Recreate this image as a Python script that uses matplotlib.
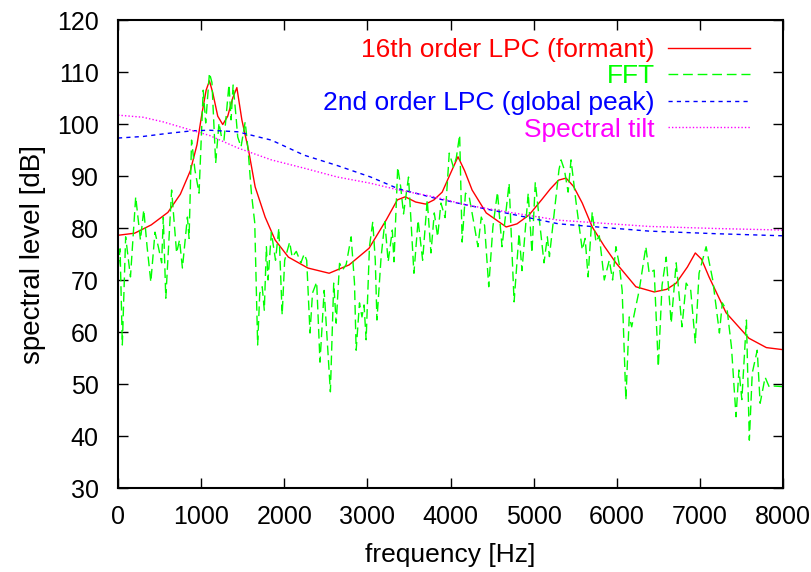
import matplotlib
matplotlib.use('Agg')
import matplotlib.pyplot as plt

plt.rcParams['font.family'] = ['Liberation Sans', 'DejaVu Sans']

# 16th order LPC envelope (formant)
lpc16_f = [0, 200, 400, 600, 750, 870, 950, 1010, 1060, 1100, 1140, 1200, 1260,
           1320, 1380, 1430, 1490, 1570, 1650, 1770, 1890, 2050, 2285, 2540,
           2780, 3020, 3225, 3360, 3455, 3580, 3700, 3800, 3900, 4000, 4090,
           4170, 4260, 4430, 4670, 4800, 4945, 5100, 5200, 5300, 5390, 5480,
           5585, 5705, 5850, 5990, 6230, 6450, 6600, 6715, 6850, 6945, 7020,
           7110, 7315, 7590, 7800, 8000]
lpc16_db = [78.6, 79.0, 80.6, 83.0, 86.5, 91.0, 96.0, 102.0, 106.5, 108.3, 106.0,
            101.5, 99.9, 101.5, 105.0, 107.0, 100.8, 95.0, 87.9, 82.1, 77.7,
            74.4, 72.3, 71.3, 72.9, 76.1, 81.5, 85.4, 86.0, 85.0, 84.6, 85.4,
            86.9, 90.5, 93.7, 91.0, 87.3, 82.9, 80.2, 80.8, 82.5, 85.5, 87.5,
            89.2, 89.6, 88.0, 84.8, 80.2, 76.5, 73.3, 68.7, 67.7, 68.2, 69.4,
            72.5, 75.2, 74.0, 70.6, 63.7, 58.8, 57.0, 56.6]

# FFT spectrum
fft_f = [0, 25, 52, 92, 150, 213, 270, 310, 350, 395, 445, 485, 525, 545, 575,
         645, 705, 740, 775, 835, 855, 885, 925, 975, 1025, 1055, 1100, 1130,
         1175, 1215, 1245, 1275, 1335, 1360, 1385, 1420, 1440, 1480, 1530,
         1565, 1605, 1645, 1680, 1705, 1735, 1760, 1785, 1805, 1845, 1895,
         1935, 1975, 2005, 2065, 2095, 2145, 2200, 2240, 2270, 2310, 2340,
         2390, 2430, 2480, 2555, 2595, 2625, 2665, 2705, 2745, 2805, 2845,
         2865, 2905, 2935, 2960, 2985, 3025, 3065, 3095, 3115, 3165, 3210,
         3250, 3300, 3320, 3365, 3400, 3435, 3495, 3560, 3610, 3665, 3720,
         3765, 3805, 3845, 3885, 3935, 3985, 4035, 4070, 4110, 4140, 4180,
         4225, 4275, 4330, 4370, 4410, 4460, 4510, 4565, 4620, 4705, 4765,
         4825, 4860, 4935, 4980, 5020, 5125, 5165, 5190, 5305, 5330, 5370,
         5415, 5450, 5510, 5585, 5620, 5655, 5705, 5750, 5790, 5850, 5910,
         5950, 5990, 6030, 6065, 6110, 6150, 6180, 6220, 6270, 6350, 6390,
         6450, 6500, 6545, 6595, 6655, 6715, 6785, 6835, 6890, 6945, 6990,
         7075, 7155, 7235, 7270, 7330, 7380, 7435, 7470, 7505, 7560, 7595,
         7630, 7690, 7725, 7785, 7835, 7895, 8000]
fft_db = [72.0, 76.0, 57.5, 78.3, 70.6, 86.0, 77.7, 83.5, 76.4, 69.6, 79.2,
          76.4, 73.3, 82.1, 66.5, 87.3, 75.2, 77.7, 72.3, 82.1, 78.0, 96.9,
          91.2, 86.7, 106.5, 100.2, 109.8, 108.0, 92.5, 100.2, 97.5, 96.9,
          107.6, 100.8, 107.5, 101.4, 97.5, 95.6, 100.4, 95.0, 86.7, 81.0,
          57.5, 67.4, 68.7, 64.2, 76.4, 70.0, 79.2, 73.8, 80.0, 63.3, 73.8,
          77.3, 74.4, 75.5, 73.3, 75.0, 73.8, 59.8, 67.5, 69.6, 54.2, 68.0,
          48.5, 69.4, 61.7, 73.2, 72.0, 73.0, 78.3, 69.4, 56.5, 65.6, 62.9,
          65.2, 58.5, 76.4, 81.2, 73.8, 62.3, 74.4, 81.2, 73.5, 79.6, 73.5,
          91.7, 88.0, 82.7, 89.8, 71.3, 81.5, 73.8, 85.4, 75.2, 82.9, 78.3,
          84.8, 82.0, 94.4, 91.7, 93.5, 97.9, 77.3, 86.7, 86.0, 81.5, 76.4,
          82.1, 80.5, 68.7, 80.2, 86.9, 76.4, 88.6, 65.8, 79.0, 71.8, 86.7,
          75.2, 88.8, 73.3, 78.3, 74.5, 91.2, 93.1, 91.2, 86.9, 93.1, 85.0,
          75.8, 78.0, 70.6, 83.1, 77.3, 78.5, 70.0, 73.8, 70.0, 76.4, 73.0,
          68.0, 46.9, 62.9, 61.0, 64.2, 68.0, 76.4, 71.3, 71.9, 53.3, 69.0,
          74.4, 61.7, 73.3, 61.0, 69.4, 68.0, 57.9, 71.3, 76.4, 70.0, 59.8,
          65.6, 64.0, 57.1, 43.7, 52.7, 47.0, 62.3, 39.2, 52.1, 56.5, 46.3,
          51.3, 49.4, 49.6, 49.5]

# 2nd order LPC (global peak)
lpc2_f = [0, 300, 600, 900, 1100, 1440, 1845, 2240, 2640, 3040, 3380, 3800,
          4200, 4600, 5300, 6390, 7200, 8000]
lpc2_db = [97.3, 97.6, 98.2, 98.7, 98.8, 98.5, 96.9, 94.0, 92.0, 89.8, 87.5,
           85.8, 84.4, 83.1, 80.8, 79.4, 78.9, 78.5]

# spectral tilt
tilt_f = [0, 300, 545, 800, 1100, 1440, 1845, 2240, 2640, 3040, 3380, 3800,
          4200, 4600, 5300, 6390, 7200, 8000]
tilt_db = [101.7, 101.3, 100.4, 99.2, 97.8, 95.4, 93.1, 91.5, 89.8, 88.6, 87.3,
           86.0, 84.4, 83.3, 81.5, 80.3, 79.9, 79.6]

fig = plt.figure(figsize=(8.11, 5.72), dpi=100)
ax = fig.add_axes([118/811, 1 - 488/572, (783 - 118)/811, (488 - 20)/572])

ax.plot(lpc16_f, lpc16_db, color='#ff0000', lw=1.0, label='16th order LPC (formant)')
ax.plot(fft_f, fft_db, color='#00ff00', lw=1.0, dashes=(7, 3.5), label='FFT')
ax.plot(lpc2_f, lpc2_db, color='#0000ff', lw=1.0, dashes=(3, 3),
        label='2nd order LPC (global peak)')
ax.plot(tilt_f, tilt_db, color='#ff00ff', lw=1.0, dashes=(1, 1.5), label='Spectral tilt')

ax.set_xlim(0, 8000)
ax.set_ylim(30, 120)
ax.set_xticks(range(0, 8001, 1000))
ax.set_yticks(range(30, 121, 10))
ax.tick_params(direction='in', length=7, width=1, top=True, right=True,
               labelsize=18)
ax.tick_params(axis='x', pad=12)
ax.tick_params(axis='y', pad=14)
for s in ax.spines.values():
    s.set_linewidth(1.5)
ax.set_xlabel('frequency [Hz]', fontsize=19, labelpad=10)
ax.set_ylabel('spectral level [dB]', fontsize=20, labelpad=8)

leg = ax.legend(loc='upper right', bbox_to_anchor=(0.95, 0.962), frameon=False,
                markerfirst=False, labelcolor='linecolor', fontsize=19,
                handlelength=3.1, handletextpad=0.5, labelspacing=0.1,
                borderpad=0.0, borderaxespad=0.0)

plt.savefig('out.png', dpi=100)
